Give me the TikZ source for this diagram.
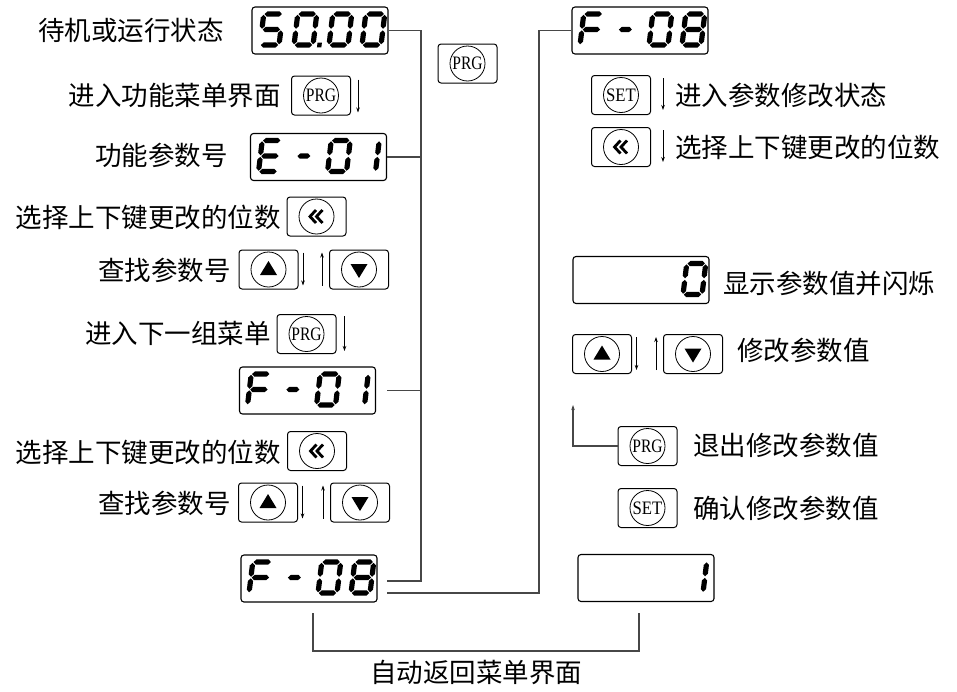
\documentclass[tikz,border=0pt]{standalone}
\usepackage{fontspec}
\usepackage{graphicx}
\setmainfont{Liberation Serif}
\newfontfamily\cjk{Noto Sans CJK SC}
\usetikzlibrary{arrows.meta,calc}
% seven-segment pieces: horizontal (x1,x2,y) and vertical (x,y1,y2), half thickness 2.6
\newcommand\hsg[3]{\fill (#1,#3) -- (#1+2.6,#3-2.6) -- (#2-2.6,#3-2.6) -- (#2,#3) -- (#2-2.6,#3+2.6) -- (#1+2.6,#3+2.6) -- cycle;}
\newcommand\vsg[3]{\fill (#1,#2) -- (#1+2.6,#2+2.6) -- (#1+2.6,#3-2.6) -- (#1,#3) -- (#1-2.6,#3-2.6) -- (#1-2.6,#2+2.6) -- cycle;}
\newcommand\dsga{\hsg{0.8}{18.2}{0}}
\newcommand\dsgg{\hsg{0.8}{18.2}{15.5}}
\newcommand\dsgm{\hsg{3}{16}{15.5}}
\newcommand\dsgd{\hsg{0.8}{18.2}{31}}
\newcommand\dsgf{\vsg{0}{0.8}{14.7}}
\newcommand\dsgb{\vsg{19}{0.8}{14.7}}
\newcommand\dsge{\vsg{0}{16.3}{30.2}}
\newcommand\dsgc{\vsg{19}{16.3}{30.2}}
\newcommand\dsgp{\fill (23.2,28.6) rectangle (27.6,33.4);}
\newcommand\dig[3]{\begin{scope}[shift={(#1.north west)},shift={(#2+6.3,7.6)},xslant=0.12]\foreach \q in {#3}{\csname dsg\q\endcsname}\end{scope}}
\newcommand\upknob[1]{\node[knob] at (#1) {}; \fill ($(#1)+(0,-8.5)$) -- ($(#1)+(-8.5,5.5)$) -- ($(#1)+(8.5,5.5)$) -- cycle;}
\newcommand\dnknob[1]{\node[knob] at (#1) {}; \fill ($(#1)+(0,8.5)$) -- ($(#1)+(-8.5,-5.5)$) -- ($(#1)+(8.5,-5.5)$) -- cycle;}
\newcommand\lfknob[1]{\node[knob] at (#1) {};
  \draw[line width=2.8pt] ($(#1)+(-0.5,-6.5)$) -- ($(#1)+(-6.5,0)$) -- ($(#1)+(-0.5,6.5)$);
  \draw[line width=2.8pt] ($(#1)+(6,-6.5)$) -- ($(#1)+(0,0)$) -- ($(#1)+(6,6.5)$);}
\begin{document}
\begin{tikzpicture}[x=1pt,y=-1pt,
  conn/.style={draw=black!72, line width=1.1pt},
  disp/.style={draw, line width=1.1pt, rounded corners=3pt, minimum width=136pt, minimum height=47pt, inner sep=0pt},
  btn/.style={draw, line width=1pt, rounded corners=3pt, minimum width=59pt, minimum height=39pt, inner sep=0pt},
  knob/.style={draw, circle, line width=0.8pt, minimum size=35pt, inner sep=0pt, font=\fontsize{19}{19}\selectfont},
  arr/.style={line width=0.8pt, -{Stealth[length=5pt,width=3.5pt]}},
  lbl/.style={font=\cjk\fontsize{26.5}{30}\selectfont, inner sep=0pt}]
\useasboundingbox (0,0) rectangle (957,691);

% displays
\node[disp] (d5000) at (320,30.5) {};
\node[disp] (dE01) at (318.5,157) {};
\node[disp] (dF01) at (307.5,390.5) {};
\node[disp] (dF08) at (309,578.5) {};
\node[disp] (dF08r) at (640,30.5) {};
\node[disp] (dzero) at (641,280) {};
\node[disp] (done) at (646,578) {};

\dig{d5000}{6}{a,f,g,c,d}\dig{d5000}{40}{a,b,c,d,e,f,p}\dig{d5000}{75}{a,b,c,d,e,f}\dig{d5000}{108}{a,b,c,d,e,f}
\dig{dE01}{6}{a,f,g,e,d}\dig{dE01}{40}{m}\dig{dE01}{75}{a,b,c,d,e,f}\dig{dE01}{104}{b,c}
\dig{dF01}{6}{a,f,g,e}\dig{dF01}{40}{m}\dig{dF01}{75}{a,b,c,d,e,f}\dig{dF01}{104}{b,c}
\dig{dF08}{6}{a,f,g,e}\dig{dF08}{40}{m}\dig{dF08}{75}{a,b,c,d,e,f}\dig{dF08}{108}{a,b,c,d,e,f,g}
\dig{dF08r}{6}{a,f,g,e}\dig{dF08r}{40}{m}\dig{dF08r}{75}{a,b,c,d,e,f}\dig{dF08r}{108}{a,b,c,d,e,f,g}
\dig{dzero}{108}{a,b,c,d,e,f}
\dig{done}{104}{b,c}

% buttons
\node[btn] (prg0) at (467.5,63.5) {};
\node[btn] (prg1) at (321,95.5) {};
\node[btn] (lf1) at (316.5,216.5) {};
\node[btn] (up1) at (268.5,269.5) {};
\node[btn] (dn1) at (359,269.5) {};
\node[btn] (prg2) at (306.5,334) {};
\node[btn] (lf2) at (317,451) {};
\node[btn] (up2) at (268,502.5) {};
\node[btn] (dn2) at (360,502.5) {};
\node[btn] (set1) at (621,95) {};
\node[btn] (lf3) at (621,147) {};
\node[btn] (up3) at (602,354) {};
\node[btn] (dn3) at (693,354) {};
\node[btn] (prg3) at (647.5,446) {};
\node[btn] (set2) at (647.5,508) {};

\foreach \b in {prg0,prg1,prg2,prg3}{\node[knob] at (\b) {\scalebox{0.82}[1]{PRG}};}
\foreach \b in {set1,set2}{\node[knob] at (\b) {\scalebox{0.88}[1]{SET}};}
\upknob{up1}\upknob{up2}\upknob{up3}
\dnknob{dn1}\dnknob{dn2}\dnknob{dn3}
\lfknob{lf1}\lfknob{lf2}\lfknob{lf3}

% small arrows beside keys
\draw[arr] ([xshift=7pt,yshift=-4pt]prg1.north east) -- ([xshift=7pt,yshift=3pt]prg1.south east);
\draw[arr] ([xshift=8pt,yshift=-2pt]prg2.north east) -- ([xshift=8pt,yshift=3pt]prg2.south east);
\foreach \u/\d in {up1/dn1,up2/dn2,up3/dn3}{
  \draw[arr] ([xshift=4.5pt,yshift=-3pt]\u.north east) -- ([xshift=4.5pt,yshift=4pt]\u.south east);
  \draw[arr] ([xshift=-7pt,yshift=4pt]\d.south west) -- ([xshift=-7pt,yshift=-3pt]\d.north west);
}
\draw[arr] ([xshift=12pt,yshift=-3pt]set1.north east) -- ([xshift=12pt,yshift=5pt]set1.south east);
\draw[arr] ([xshift=12pt,yshift=-3pt]lf3.north east) -- ([xshift=12pt,yshift=5pt]lf3.south east);

% connectors
\coordinate (busT) at (421,30.5);
\coordinate (busB) at (421,581);
\coordinate (f8a) at (387,581);
\coordinate (f8b) at (387,593);
\coordinate (rB) at (539,593);
\coordinate (exitTip) at (573,405);
\coordinate (bL) at (313,613);
\coordinate (bR) at (639,613);
\draw[conn] (d5000.east) -- (busT) -- (busB) -- (f8a);
\draw[conn] (dE01.east) -- (dE01.east -| busT);
\draw[conn] ([xshift=11pt]dF01.east) -- (dF01.east -| busT);
\draw[conn] (f8b) -- (rB) -- (rB |- dF08r.west) -- (dF08r.west);
\draw[conn,-{Stealth[length=5pt,width=3.5pt]}] (prg3.west) -| (exitTip);
\draw[conn] (bL) -- ++(0,38) -| (bR);

% labels
\node[lbl,anchor=east] (t1) at (224,30) {待机或运行状态};
\node[lbl,anchor=east] (t2) at (281,95) {进入功能菜单界面};
\node[lbl,anchor=east] (t3) at (228,155) {功能参数号};
\node[lbl,anchor=east] (t4) at (281,217) {选择上下键更改的位数};
\node[lbl,anchor=east] (t5) at (231,270) {查找参数号};
\node[lbl,anchor=east] (t6) at (271,333) {进入下一组菜单};
\node[lbl,anchor=east] (t7) at (281,452) {选择上下键更改的位数};
\node[lbl,anchor=east] (t8) at (231,503) {查找参数号};
\node[lbl,anchor=west] (r1) at (675,95) {进入参数修改状态};
\node[lbl,anchor=west] (r2) at (675,147) {选择上下键更改的位数};
\node[lbl,anchor=west] (r3) at (723,283) {显示参数值并闪烁};
\node[lbl,anchor=west] (r4) at (737,350) {修改参数值};
\node[lbl,anchor=west] (r5) at (693,445) {退出修改参数值};
\node[lbl,anchor=west] (r6) at (693,508) {确认修改参数值};
\node[lbl] (back) at (476,672) {自动返回菜单界面};
\end{tikzpicture}
\end{document}
